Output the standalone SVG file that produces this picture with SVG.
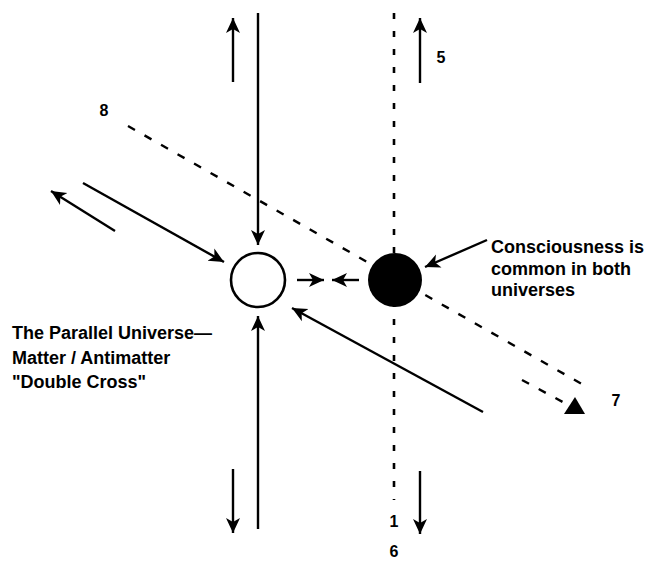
<svg xmlns="http://www.w3.org/2000/svg" width="647" height="562" viewBox="0 0 647 562">
<defs>
<style>
.ln{stroke:#000;stroke-width:2.4;fill:none}
.dv{stroke:#000;stroke-width:2.6;fill:none;stroke-dasharray:6 12}
.dd{stroke:#000;stroke-width:2.4;fill:none;stroke-dasharray:8 11}
.t{font-family:"Liberation Sans",Arial,sans-serif;font-weight:bold;font-size:18px;fill:#000}
.n{font-family:"Liberation Sans",Arial,sans-serif;font-weight:bold;font-size:16px;fill:#000;text-anchor:middle}
</style>
<marker id="ah" markerUnits="userSpaceOnUse" markerWidth="18" markerHeight="16" viewBox="-15 -8 18 16" refX="0" refY="0" orient="auto">
<path d="M0,0 L-15,-7 L-11,0 L-15,7 Z" fill="#000"/>
</marker>
</defs>
<g id="connectors">
<line class="dv" x1="394" y1="13" x2="394" y2="500"/>
<line class="dd" x1="128" y1="126" x2="587" y2="387"/>
<line class="dd" x1="522" y1="380" x2="572" y2="407"/>
<polygon points="575,397 564,414 585,414" fill="#000"/>
<line class="ln" x1="258" y1="13" x2="258" y2="245" marker-end="url(#ah)"/>
<line class="ln" x1="258" y1="529" x2="258" y2="316" marker-end="url(#ah)"/>
<line class="ln" x1="233" y1="82" x2="233" y2="18" marker-end="url(#ah)"/>
<line class="ln" x1="420" y1="83" x2="420" y2="18" marker-end="url(#ah)"/>
<line class="ln" x1="233" y1="469" x2="233" y2="533" marker-end="url(#ah)"/>
<line class="ln" x1="420" y1="471" x2="420" y2="534" marker-end="url(#ah)"/>
<line class="ln" x1="115" y1="231" x2="51" y2="191" marker-end="url(#ah)"/>
<line class="ln" x1="83" y1="183" x2="224" y2="262" marker-end="url(#ah)"/>
<line class="ln" x1="483" y1="412" x2="292" y2="308" marker-end="url(#ah)"/>
<line class="ln" x1="297" y1="280" x2="324" y2="280" marker-end="url(#ah)"/>
<line class="ln" x1="359" y1="280" x2="332" y2="280" marker-end="url(#ah)"/>
<line class="ln" x1="487" y1="240" x2="425" y2="267" marker-end="url(#ah)"/>
</g>
<g id="white-circle">
<circle cx="258" cy="280" r="27" fill="#fff" stroke="#000" stroke-width="2.6"/>
</g>
<g id="black-circle">
<circle cx="395" cy="280" r="27" fill="#000"/>
</g>
<g id="label-consciousness">
<text class="t" x="491" y="253">Consciousness is</text>
<text class="t" x="491" y="275">common in both</text>
<text class="t" x="491" y="296">universes</text>
</g>
<g id="label-parallel">
<text class="t" x="12" y="339">The Parallel Universe—</text>
<text class="t" x="12" y="364">Matter / Antimatter</text>
<text class="t" x="12" y="388">"Double Cross"</text>
</g>
<g id="numbers">
<text class="n" x="104" y="116">8</text>
<text class="n" x="441" y="63">5</text>
<text class="n" x="616" y="406">7</text>
<text class="n" x="394" y="527">1</text>
<text class="n" x="394" y="557">6</text>
</g>
</svg>
